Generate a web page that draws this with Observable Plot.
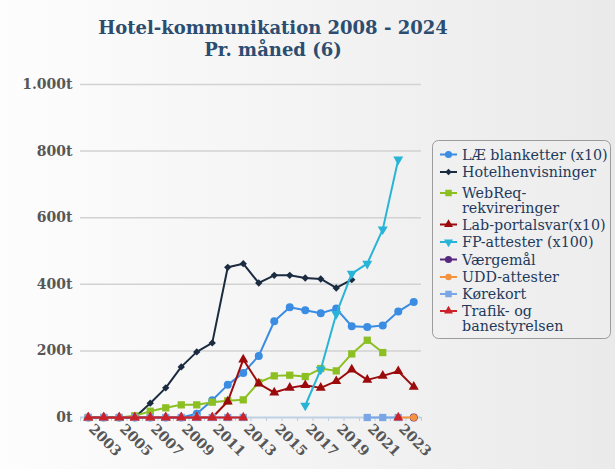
<!DOCTYPE html>
<html><head><meta charset="utf-8">
<script src="https://cdn.jsdelivr.net/npm/d3@7"></script>
<script src="https://cdn.jsdelivr.net/npm/@observablehq/plot@0.6"></script>
<style>
body{margin:0;}
#wrap{position:relative;width:615px;height:469px;background:linear-gradient(to right,#fdfdfd,#eaeaea);overflow:hidden;}
#title{position:absolute;left:0;width:546px;top:17px;text-align:center;font-family:"DejaVu Serif";font-weight:bold;font-size:18px;color:#2c4d70;line-height:22px;}
#chart{position:absolute;left:0;top:0;}
#legend{position:absolute;left:0;top:0;}
</style></head><body>
<div id="wrap"><div id="chart"></div><div id="title">Hotel-kommunikation 2008 - 2024<br>Pr. måned (6)</div><svg id="legend" width="615" height="469"></svg></div>
<script>
const years = [2003,2004,2005,2006,2007,2008,2009,2010,2011,2012,2013,2014,2015,2016,2017,2018,2019,2020,2021,2022,2023,2024];
const xTickYears = [2003,2005,2007,2009,2011,2013,2015,2017,2019,2021,2023];
const yTicks = [0,200,400,600,800,1000];
const yTickLabels = ["0t","200t","400t","600t","800t","1.000t"];

const laeBlanketter = [0,0,0,0,0,0,0,11,52,98,134,185,289,331,322,313,327,274,272,276,318,347];
const hotelhenvisninger = [0,0,0,0,43,89,152,197,224,451,462,404,427,427,419,416,389,414,null,null,null,null];
const webReq = [0,0,0,5,19,29,38,38,46,50,53,105,125,127,123,147,140,191,232,195,null,null];
const labPortalsvar = [0,0,0,0,0,0,0,0,0,48,174,102,75,89,97,89,109,144,113,125,139,92];
const fpAttester = [null,null,null,null,null,null,null,null,null,null,null,null,null,null,36,144,311,432,462,565,775,null];
const vaergemaal = [null,null,null,null,null,null,null,null,null,null,null,null,null,null,null,null,null,null,null,null,null,0];
const uddAttester = [null,null,null,null,null,null,null,null,null,null,null,null,null,null,null,null,null,null,null,null,0,0];
const koerekort = [0,0,0,0,0,0,0,0,0,0,0,null,null,null,null,null,null,null,0,0,0,null];
const trafik = [0,0,0,0,0,0,0,0,0,0,0,null,null,null,null,null,null,null,null,null,0,null];

const triangleDown = {draw(ctx, size){ const y = -Math.sqrt(size/(Math.sqrt(3)*3)); ctx.moveTo(0,-y*2); ctx.lineTo(-Math.sqrt(3)*y,y); ctx.lineTo(Math.sqrt(3)*y,y); ctx.closePath(); }};

const series = [
  {name:["LÆ blanketter (x10)"], values:laeBlanketter, color:"#3a8de2", symbol:d3.symbolCircle, r:4},
  {name:["Hotelhenvisninger"], values:hotelhenvisninger, color:"#1b2b40", symbol:d3.symbolDiamond2, r:3.3},
  {name:["WebReq-","rekvireringer"], values:webReq, color:"#8cbf22", symbol:d3.symbolSquare, r:4.1},
  {name:["Lab-portalsvar(x10)"], values:labPortalsvar, color:"#9c0b0b", symbol:d3.symbolTriangle, r:3.7},
  {name:["FP-attester (x100)"], values:fpAttester, color:"#28b4d6", symbol:triangleDown, r:3.7},
  {name:["Værgemål"], values:vaergemaal, color:"#56287e", symbol:d3.symbolCircle, r:4},
  {name:["UDD-attester"], values:uddAttester, color:"#f39340", symbol:d3.symbolCircle, r:3.6},
  {name:["Kørekort"], values:koerekort, color:"#7aa6e6", symbol:d3.symbolSquare, r:4.1},
  {name:["Trafik- og","banestyrelsen"], values:trafik, color:"#cc2229", symbol:d3.symbolTriangle, r:3.7}
];

const seriesMarks = series.flatMap(s => {
  const data = years.map((yr,i) => ({year:yr, value:s.values[i]}));
  return [
    Plot.line(data, {x:"year", y:"value", stroke:s.color, strokeWidth:2}),
    Plot.dot(data.filter(d => d.value != null), {x:"year", y:"value", fill:s.color, stroke:"none", symbol:s.symbol, r:s.r})
  ];
});

const boundaries = years.map(y => y - 0.5).concat([years[years.length-1] + 0.5]);

const chart = Plot.plot({
  width:615, height:469,
  marginLeft:80, marginRight:194, marginTop:84, marginBottom:52,
  style:{background:"transparent", fontFamily:"DejaVu Serif", fontSize:"14px", fontWeight:"bold", color:"#575757"},
  x:{type:"linear", domain:[2002.5,2024.5]},
  y:{domain:[0,1000]},
  marks:[
    Plot.gridY(yTicks.slice(1), {stroke:"#d2d2d2", strokeOpacity:1, strokeWidth:1.5}),
    Plot.axisY(yTicks, {tickFormat:(d)=>yTickLabels[yTicks.indexOf(d)], tickSize:0, tickPadding:8, label:null, fill:"#575757"}),
    Plot.axisX(boundaries, {tickFormat:()=>"", tickSize:4, stroke:"#b9cce0", label:null}),
    Plot.axisX(xTickYears, {tickFormat:d=>String(d), tickRotate:45, tickSize:0, tickPadding:9, dx:3, label:null, fill:"#575757"}),
    Plot.ruleY([0], {stroke:"#bfd1e4", strokeWidth:2}),
    ...seriesMarks
  ]
});
document.getElementById("chart").appendChild(chart);

// legend
const lg = d3.select("#legend");
lg.append("rect").attr("x",432.5).attr("y",140.5).attr("width",178).attr("height",198).attr("rx",6)
  .attr("fill","#f2f2f2").attr("fill-opacity",0.4).attr("stroke","#9b9b9b").attr("stroke-width",1);
const baselines = [[159.5],[177],[198],[229.5],[247],[264.5],[282],[299],[316]];
series.forEach((s,i) => {
  const b = baselines[i][0];
  const cy = b - 5;
  lg.append("line").attr("x1",440).attr("x2",457).attr("y1",cy).attr("y2",cy).attr("stroke",s.color).attr("stroke-width",2);
  lg.append("path").attr("d", d3.symbol(s.symbol, Math.PI*s.r*s.r*0.8)()).attr("transform",`translate(448.5,${cy})`).attr("fill",s.color);
  const t = lg.append("text").attr("x",462).attr("y",b)
    .attr("font-family","DejaVu Serif").attr("font-size","14.3px").attr("fill","#1f3a5c");
  s.name.forEach((line,j) => {
    t.append("tspan").attr("x",462).attr("dy", j === 0 ? 0 : 15).text(line);
  });
});
</script>
</body></html>
